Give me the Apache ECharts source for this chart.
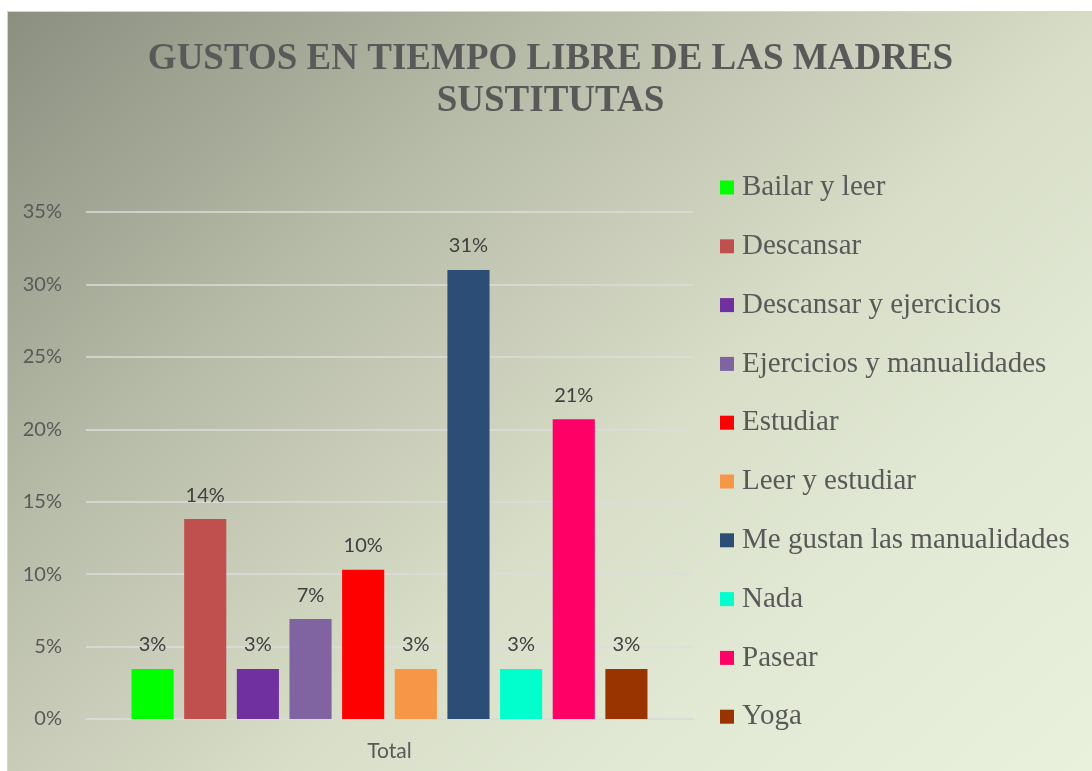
<!DOCTYPE html>
<html>
<head>
<meta charset="utf-8">
<script src="https://cdn.jsdelivr.net/npm/echarts@6/dist/echarts.min.js"></script>
<style>
  html, body { margin: 0; padding: 0; background: #ffffff; width: 1092px; height: 771px; overflow: hidden; }
  #frame {
    position: absolute; left: 7px; top: 11px; width: 1085px; height: 760px;
    border-left: 1px solid #d4d4d4; border-top: 1px solid #d4d4d4;
    background: linear-gradient(138deg, #8a8f80 0%, #b7bca8 30%, #c9cdb9 45%, #d8dec8 58%, #e1e8d3 75%, #e9f1dd 100%);
  }
  #chart { position: absolute; left: 0; top: 0; width: 1085px; height: 760px; }
</style>
</head>
<body>
<div id="frame"><div id="chart"></div></div>
<script>
const titleText = 'GUSTOS EN TIEMPO LIBRE DE LAS MADRES\nSUSTITUTAS';
const categories = ['Total'];
const seriesNames = [
  'Bailar y leer', 'Descansar', 'Descansar y ejercicios', 'Ejercicios y manualidades',
  'Estudiar', 'Leer y estudiar', 'Me gustan las manualidades', 'Nada', 'Pasear', 'Yoga'
];
const seriesValues = [0.0345, 0.138, 0.0345, 0.069, 0.103, 0.0345, 0.310, 0.0345, 0.207, 0.0345];
const seriesColors = ['#00ff00', '#c0504d', '#7030a0', '#8064a2', '#ff0000', '#f79646', '#2c4d76', '#00ffcc', '#ff0066', '#993300'];
const yTicks = { min: 0, max: 0.35, interval: 0.05 };

const chart = echarts.init(document.getElementById('chart'), null, { renderer: 'canvas' });
const sansFont = 'Lato, "Open Sans", sans-serif';
const serifFont = '"Liberation Serif", "DejaVu Serif", serif';

const series = seriesNames.map((name, i) => ({
  name: name,
  type: 'bar',
  data: [seriesValues[i]],
  itemStyle: { color: seriesColors[i] },
  barGap: '25%',
  barCategoryGap: '15%',
  label: {
    show: true,
    position: 'top',
    distance: 14,
    formatter: p => Math.round(p.value * 100) + '%',
    fontFamily: sansFont,
    fontSize: 20,
    color: '#404040'
  }
}));

chart.setOption({
  backgroundColor: 'transparent',
  animation: false,
  title: {
    text: titleText,
    left: 'center',
    top: 21,
    textStyle: {
      fontFamily: serifFont,
      fontWeight: 'bold',
      fontSize: 37,
      lineHeight: 42,
      color: '#595959'
    }
  },
  legend: {
    orient: 'vertical',
    left: 707,
    top: 156,
    icon: 'rect',
    itemWidth: 14,
    itemHeight: 14,
    itemGap: 29.8,
    data: seriesNames,
    textStyle: {
      fontFamily: serifFont,
      fontSize: 29,
      lineHeight: 28,
      color: '#595959',
      padding: [0, 0, 0, 3]
    }
  },
  grid: {
    left: 78,
    right: 400,
    top: 200,
    bottom: 53,
    containLabel: false
  },
  xAxis: {
    type: 'category',
    data: categories,
    axisLine: { show: true, lineStyle: { color: '#d9d9d9', width: 1.5 } },
    axisTick: { show: false },
    axisLabel: { margin: 22, fontFamily: sansFont, fontSize: 21, color: '#595959' }
  },
  yAxis: {
    type: 'value',
    min: yTicks.min,
    max: yTicks.max,
    interval: yTicks.interval,
    axisLine: { show: false },
    axisTick: { show: false },
    splitLine: { lineStyle: { color: '#dcdcdc', width: 1.5 } },
    axisLabel: {
      margin: 24,
      fontFamily: sansFont,
      fontSize: 20,
      color: '#595959',
      formatter: v => Math.round(v * 100) + '%'
    }
  },
  series: series
});
</script>
</body>
</html>
